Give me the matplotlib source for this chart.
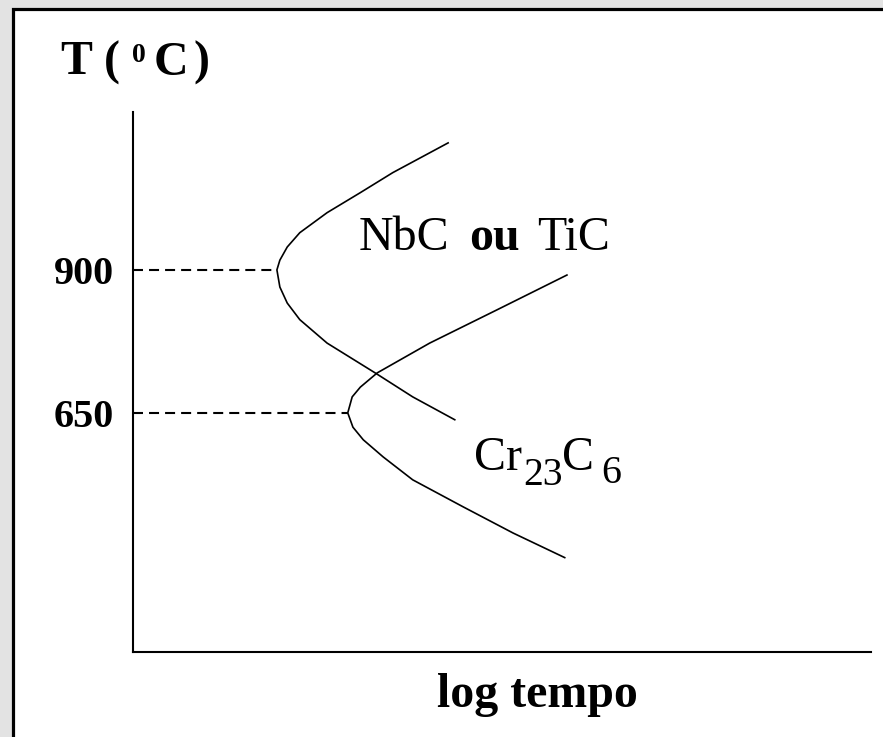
import matplotlib
matplotlib.use("Agg")
import matplotlib.pyplot as plt
from matplotlib.patches import Rectangle

# --- data -------------------------------------------------------------
# C-curve for NbC / TiC precipitation (log time, temperature in °C)
nbc_logt = [4.27, 3.52, 3.08, 2.63, 2.26, 2.09, 1.99, 1.95, 1.99, 2.09,
            2.26, 2.63, 3.28, 3.79, 4.36]
nbc_temp = [1122, 1070, 1035, 1000, 965, 940, 917, 900, 870, 842,
            813, 772, 720, 678, 638]

# C-curve for Cr23C6 precipitation
cr_logt = [5.88, 4.93, 4.02, 3.31, 3.08, 2.97, 2.91, 2.98, 3.12, 3.39,
           3.79, 4.47, 5.15, 5.85]
cr_temp = [891, 830, 772, 720, 695, 678, 650, 625, 603, 573,
           533, 486, 440, 397]

# nose temperatures and their log-time positions
nose_temps = [900, 650]
nose_logt = [1.95, 2.91]
tick_labels = ["900", "650"]

# --- figure -----------------------------------------------------------
W, H = 883, 737
fig = plt.figure(figsize=(W / 100, H / 100), dpi=100, facecolor="#e3e3e3")


def fx(x):
    return x / W


def fy(y):
    return 1 - y / H


# white slide panel with black frame
panel = Rectangle((fx(13), fy(H + 10)), (W + 10 - 13) / W, (H + 10 - 8.5) / H,
                  transform=fig.transFigure, facecolor="white",
                  edgecolor="black", linewidth=2.3, zorder=-10)
fig.patches.append(panel)

ax = fig.add_axes([fx(133), fy(652), (871 - 133) / W, (652 - 112) / H])
ax.set_zorder(5)
ax.set_facecolor("none")
ax.set_xlim(0, 10)
ax.set_ylim(232, 1176)

for side in ("top", "right"):
    ax.spines[side].set_visible(False)
for side in ("left", "bottom"):
    ax.spines[side].set_linewidth(1.5)
    ax.spines[side].set_color("black")

ax.plot(nbc_logt, nbc_temp, color="black", lw=1.2, solid_joinstyle="round")
ax.plot(cr_logt, cr_temp, color="black", lw=1.2, solid_joinstyle="round")

for t, x in zip(nose_temps, nose_logt):
    ax.plot([0, x], [t, t], color="black", lw=1.5, dashes=(4.8, 2.9))

ax.set_xticks([])
ax.set_yticks(nose_temps)
ax.set_yticklabels(tick_labels, family="Liberation Serif", weight="bold", fontsize=29)
ax.tick_params(axis="y", length=0, pad=14)

serif = "Liberation Serif"
big = 34.5
small = 28.5

# axis title  T ( 0C )
fig.text(fx(61), fy(75), "T (", family=serif, weight="bold", fontsize=big,
         va="baseline", ha="left")
fig.text(fx(132), fy(62), "0", family=serif, weight="bold", fontsize=20,
         va="baseline", ha="left")
fig.text(fx(154), fy(75), "C", family=serif, weight="bold", fontsize=big,
         va="baseline", ha="left")
fig.text(fx(193), fy(75), ")", family=serif, weight="bold", fontsize=big,
         va="baseline", ha="left")

# curve labels
fig.text(fx(359), fy(250), "NbC", family=serif, fontsize=big, va="baseline", ha="left")
fig.text(fx(469), fy(250), "ou", family=serif, weight="bold", fontsize=big,
         va="baseline", ha="left")
fig.text(fx(537), fy(250), "TiC", family=serif, fontsize=big, va="baseline", ha="left")

fig.text(fx(474), fy(470), "Cr", family=serif, fontsize=big, va="baseline", ha="left")
fig.text(fx(523), fy(485), "23", family=serif, fontsize=small, va="baseline", ha="left")
fig.text(fx(562), fy(470), "C", family=serif, fontsize=big, va="baseline", ha="left")
fig.text(fx(601), fy(483), "6", family=serif, fontsize=small, va="baseline", ha="left")

# x-axis title
fig.text(fx(537), fy(707), "log tempo", family=serif, weight="bold", fontsize=big,
         va="baseline", ha="center")

fig.savefig("out.png", dpi=100, facecolor=fig.get_facecolor())
